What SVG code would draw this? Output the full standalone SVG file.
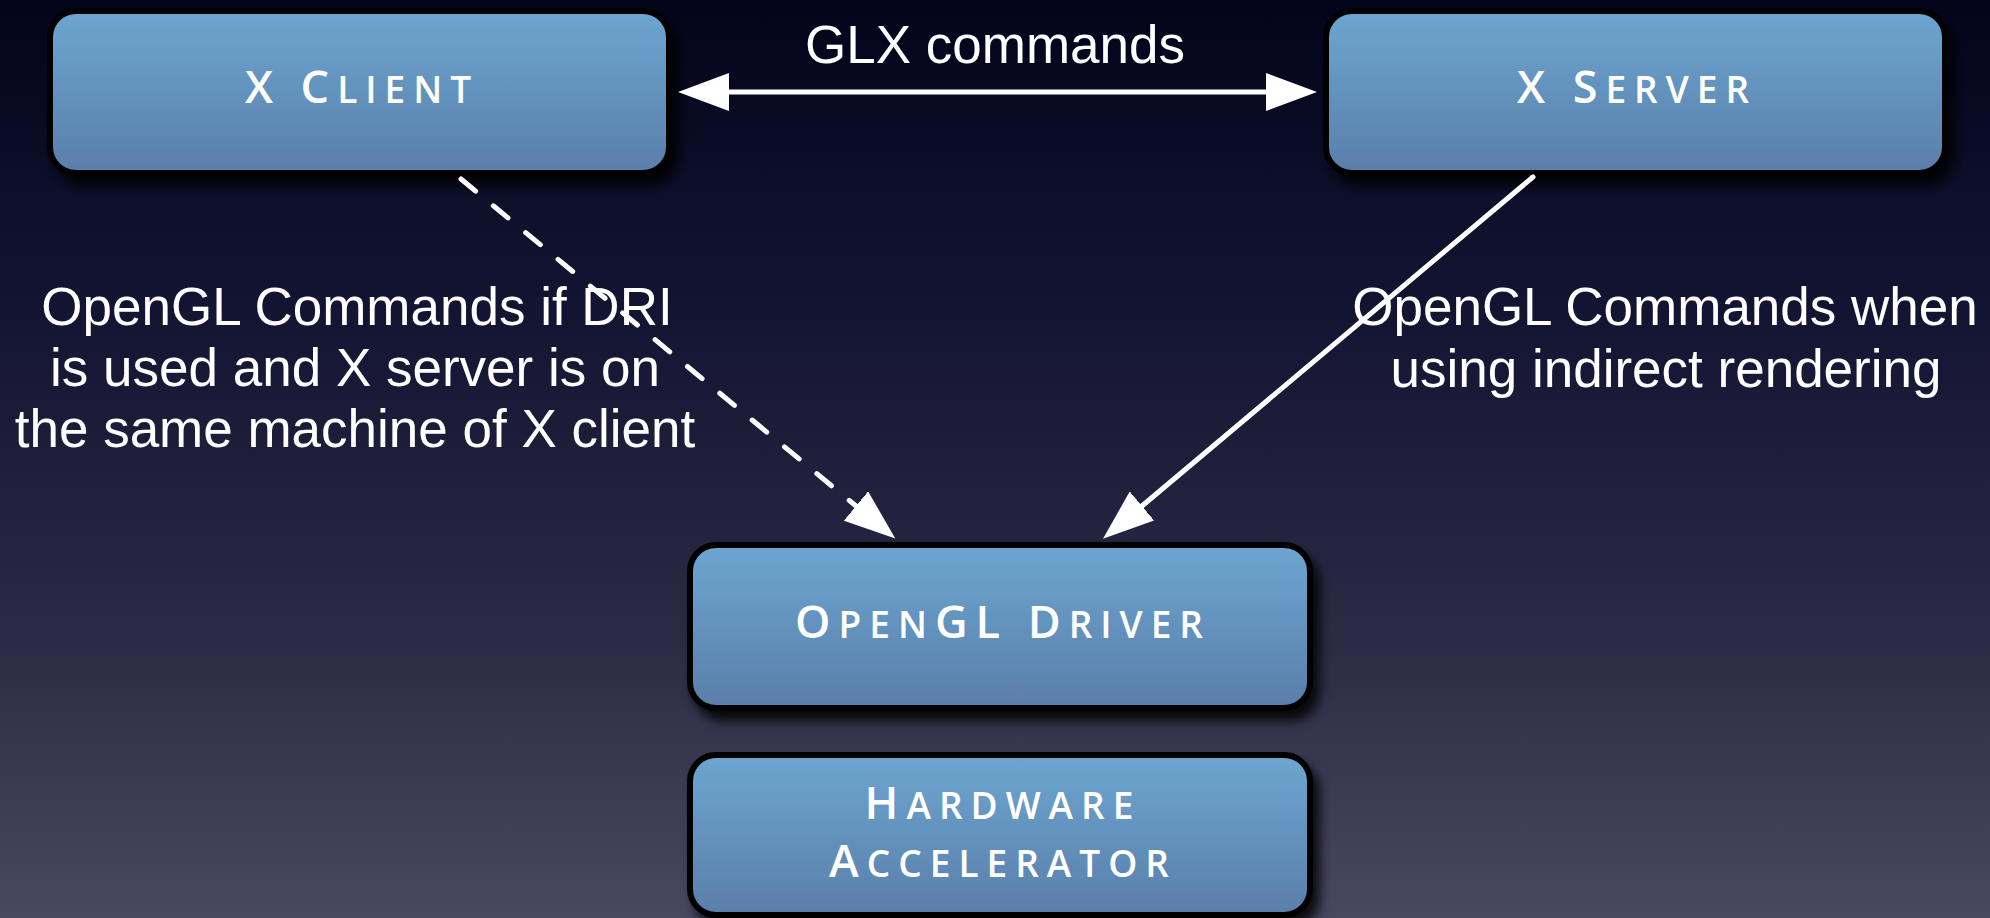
<svg xmlns="http://www.w3.org/2000/svg" width="1990" height="918" viewBox="0 0 1990 918">
  <defs>
    <linearGradient id="bg" x1="0" y1="0" x2="0" y2="1">
      <stop offset="0" stop-color="#03041a"/>
      <stop offset="0.35" stop-color="#141533"/>
      <stop offset="0.7" stop-color="#2c2b45"/>
      <stop offset="1" stop-color="#4a4860"/>
    </linearGradient>
    <linearGradient id="box" x1="0" y1="0" x2="0" y2="1">
      <stop offset="0" stop-color="#6ca6d0"/>
      <stop offset="1" stop-color="#5a7eaa"/>
    </linearGradient>
    <filter id="shadow" x="-10%" y="-20%" width="125%" height="150%">
      <feDropShadow dx="7" dy="10" stdDeviation="6" flood-color="#000" flood-opacity="0.85"/>
    </filter>
    <marker id="arrow" viewBox="0 0 51 38" refX="0" refY="19" markerWidth="51" markerHeight="38" markerUnits="userSpaceOnUse" orient="auto-start-reverse">
      <path d="M0,0 L51,19 L0,38 Z" fill="#fff"/>
    </marker>
    <style>
      .node rect { fill: url(#box); stroke: #000; stroke-width: 6; filter: url(#shadow); }
      .node text { fill: #fff; font-family: "Open Sans", "Liberation Sans", Arial, sans-serif; font-weight: 600; font-size: 45px; letter-spacing: 8px; text-anchor: middle; }
      .node .sc { font-size: 37px; }
      .label { fill: #fff; font-family: "Liberation Sans", Arial, sans-serif; font-size: 53px; text-anchor: middle; }
      .conn { stroke: #fff; stroke-width: 5; fill: none; }
      .dash { stroke-dasharray: 19 23; stroke-linecap: round; }
    </style>
  </defs>
  <rect width="1990" height="918" fill="url(#bg)"/>

  <g id="x-client" class="node">
    <rect x="50" y="11" width="619" height="162" rx="26"/>
    <text x="362" y="103">X C<tspan class="sc">LIENT</tspan></text>
  </g>
  <g id="x-server" class="node">
    <rect x="1326" y="11" width="619" height="162" rx="26"/>
    <text x="1637" y="103">X S<tspan class="sc">ERVER</tspan></text>
  </g>
  <g id="opengl-driver" class="node">
    <rect x="690" y="545" width="620" height="163" rx="26"/>
    <text x="1003" y="638">O<tspan class="sc">PEN</tspan>GL D<tspan class="sc">RIVER</tspan></text>
  </g>
  <g id="hardware-accelerator" class="node">
    <rect x="690" y="755" width="620" height="160" rx="26"/>
    <text x="1003" y="819">H<tspan class="sc">ARDWARE</tspan></text>
    <text x="1003" y="877">A<tspan class="sc">CCELERATOR</tspan></text>
  </g>

  <g id="connectors">
    <line class="conn" x1="729" y1="92" x2="1266" y2="92" marker-start="url(#arrow)" marker-end="url(#arrow)"/>
    <line class="conn dash" x1="461" y1="179" x2="856" y2="506" marker-end="url(#arrow)"/>
    <line class="conn" x1="1533" y1="177" x2="1142" y2="506" stroke-linecap="round" marker-end="url(#arrow)"/>
  </g>

  <g id="labels">
    <text class="label" x="995" y="63">GLX commands</text>
    <text class="label" x="357" y="325">OpenGL Commands if DRI</text>
    <text class="label" x="355" y="386">is used and X server is on</text>
    <text class="label" x="355" y="447">the same machine of X client</text>
    <text class="label" x="1665" y="325">OpenGL Commands when</text>
    <text class="label" x="1666" y="387">using indirect rendering</text>
  </g>
</svg>
